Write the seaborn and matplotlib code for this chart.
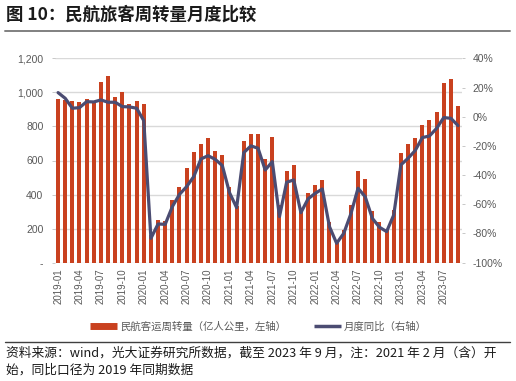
import numpy as np
import pandas as pd
import matplotlib
matplotlib.use("Agg")
import matplotlib.pyplot as plt
from matplotlib.lines import Line2D
import seaborn as sns

# ---- data ----
months = [f"{y}-{m:02d}" for y in range(2019, 2024) for m in range(1, 13)][:57]
rpk = [963, 955, 947, 945, 963, 947, 1059, 1094, 975, 1000, 933, 949,
       933, 160, 248, 247, 370, 442, 556, 652, 698, 735, 656, 630,
       447, 335, 716, 755, 753, 608, 737, 339, 539, 571, 315, 408,
       457, 486, 241, 120, 193, 338, 539, 490, 304, 241, 192, 310,
       643, 698, 731, 810, 839, 882, 1055, 1078, 918]
yoy = [16.5, 12.6, 5.8, 6.2, 10.3, 10.1, 11.5, 9.9, 9.9, 6.9, 6.7, 5.8,
       -2.7, -83.3, -73.5, -73.7, -61.6, -53.2, -47.9, -41.0, -29.0, -26.7, -29.2, -33.5,
       -52.0, -62.3, -24.6, -20.0, -21.6, -36.5, -30.8, -68.4, -44.9, -43.3, -65.7, -56.3,
       -52.5, -49.5, -75.3, -86.7, -79.9, -66.5, -49.0, -54.8, -69.6, -75.7, -78.7, -67.3,
       -33.0, -28.5, -23.2, -14.3, -13.2, -8.0, -0.6, -1.1, -6.1]
left_ticks = [0, 200, 400, 600, 800, 1000, 1200]
left_labels = ["-", "200", "400", "600", "800", "1,000", "1,200"]
right_ticks = [-100, -80, -60, -40, -20, 0, 20, 40]
right_labels = ["-100%", "-80%", "-60%", "-40%", "-20%", "0%", "20%", "40%"]
bar_name = "民航客运周转量（亿人公里，左轴）"
line_name = "月度同比（右轴）"
title = "图 10：民航旅客周转量月度比较"
note1 = "资料来源：wind，光大证券研究所数据，截至 2023 年 9 月，注：2021 年 2 月（含）开"
note2 = "始，同比口径为 2019 年同期数据"

df = pd.DataFrame({"month": months, "rpk": rpk, "yoy": yoy, "idx": np.arange(len(months))})

sns.set_theme(style="white")
plt.rcParams["font.family"] = ["Liberation Sans", "Noto Sans CJK SC", "DejaVu Sans"]
cjk = ["Noto Sans CJK SC", "DejaVu Sans"]

BAR = "#C9411F"
LINE = "#4B4C72"
GRID = "#D9D9D9"
TXT = "#595959"

fig = plt.figure(figsize=(5.16, 3.81), dpi=100)
W, H = 516, 381
ax = fig.add_axes([54.5 / W, 1 - 262.7 / H, (461.6 - 54.5) / W, (262.7 - 58.3) / H])

sns.barplot(data=df, x="month", y="rpk", color=BAR, width=0.56, ax=ax,
            saturation=1, edgecolor="none")
ax.set_xlim(-0.5, len(months) - 0.5)
ax.set_ylim(0, 1200)
ax.set_yticks(left_ticks)
ax.set_yticklabels(left_labels)
ax.yaxis.grid(True, color=GRID, linewidth=1.0)
ax.set_axisbelow(True)
ax.set_xlabel("")
ax.set_ylabel("")
xt = list(range(0, len(months), 3))
ax.set_xticks(xt)
ax.set_xticklabels([months[i] for i in xt], rotation=90)
ax.tick_params(axis="x", length=0, pad=4, labelsize=7, labelcolor=TXT)
ax.tick_params(axis="y", length=2, width=0.6, color="#BFBFBF", pad=6, labelsize=7.5, labelcolor=TXT)
for s in ax.spines.values():
    s.set_visible(False)

ax2 = ax.twinx()
sns.lineplot(data=df, x="idx", y="yoy", color=LINE, linewidth=2.3, ax=ax2)
ax2.set_ylim(-100, 40)
ax2.set_yticks(right_ticks)
ax2.set_yticklabels(right_labels)
ax2.set_xlim(-0.5, len(months) - 0.5)
ax2.set_ylabel("")
ax2.set_xlabel("")
ax2.grid(False)
ax2.tick_params(axis="y", length=2, width=0.6, color="#BFBFBF", pad=6, labelsize=7.5, labelcolor=TXT)
for s in ax2.spines.values():
    s.set_visible(False)

# legend
handles = [Line2D([], [], color=BAR, linewidth=5, solid_capstyle="butt"),
           Line2D([], [], color=LINE, linewidth=2.5, solid_capstyle="butt")]
leg = fig.legend(handles, [bar_name, line_name], loc="center",
                 bbox_to_anchor=(0.501, 1 - 326.7 / H), ncol=2, frameon=False,
                 handlelength=2.6, handletextpad=0.3, columnspacing=2.6,
                 prop={"family": cjk, "size": 7.5})
for t in leg.get_texts():
    t.set_color(TXT)

# title and decorations
fig.text(6 / W, 1 - 15 / H, title, fontsize=12.5, fontweight="bold",
         family=cjk, va="center", ha="left", color="#1a1a1a")
fig.add_artist(Line2D([5 / W, 510 / W], [1 - 30.7 / H] * 2, color="#808080", linewidth=1.4))
fig.add_artist(Line2D([5 / W, 510 / W], [1 - 342.3 / H] * 2, color="#404040", linewidth=1.0))
fig.text(6 / W, 1 - 353 / H, note1, fontsize=9.2, family=cjk, va="center", ha="left", color="#1a1a1a")
fig.text(6 / W, 1 - 370 / H, note2, fontsize=9.2, family=cjk, va="center", ha="left", color="#1a1a1a")

fig.savefig("out.png", dpi=100)
